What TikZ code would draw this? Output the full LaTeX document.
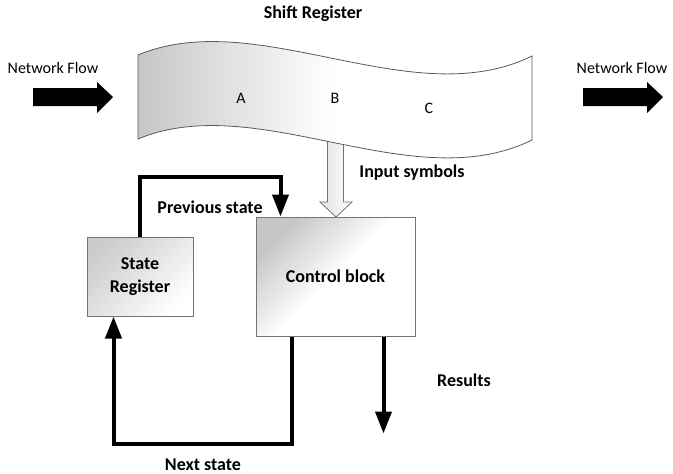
\documentclass[tikz,border=0pt]{standalone}
\usepackage{fontspec}
\setmainfont{Carlito}
\usetikzlibrary{arrows.meta,calc}
\begin{document}
\begin{tikzpicture}[x=1pt,y=-1pt,
  lbl/.style={font=\fontsize{18}{23}\selectfont\bfseries, inner sep=0pt, align=center},
  reg/.style={font=\fontsize{16}{19}\selectfont, inner sep=0pt},
  box/.style={draw=black!55, line width=1pt, inner sep=0pt},
  flow/.style={line width=4pt, line join=miter, -{Triangle[width=16pt,length=22pt]}},
  blockarrow/.style={fill=black},
  hollow/.style={draw=black!55, line width=0.8pt, left color=black!12, right color=white}
]
\useasboundingbox (0,0) rectangle (673,474);

% title
\node[lbl] (title) at (313,14) {Shift Register};

% network flow labels and block arrows
\node[reg] (nfl) at (53,68) {Network Flow};
\node[reg] (nfr) at (622,68) {Network Flow};
\fill[blockarrow] (33,88) -- (97,88) -- (97,82) -- (113,97) -- (97,113) -- (97,106) -- (33,106) -- cycle;
\fill[blockarrow] (583,88) -- (647,88) -- (647,82) -- (663,97) -- (647,113) -- (647,106) -- (583,106) -- cycle;

% input symbols hollow arrow
\path[hollow] (327.5,130) -- (327.5,202) -- (320,202) -- (336,217) -- (352,202) -- (343.5,202) -- (343.5,130) -- cycle;

% shift register banner
\path[shade, left color=black!22, right color=white, middle color=white, draw=black!65, line width=0.8pt]
  (138,55) .. controls (258,5) and (412,115) .. (532,56) -- (532,140)
  .. controls (412,199) and (258,89) .. (138,139) -- cycle;
\node[reg] (a) at (241,98) {A};
\node[reg] (b) at (335,98) {B};
\node[reg] (c) at (429,108) {C};

\node[lbl] (inp) at (412,173) {Input symbols};

% boxes
\node[box, lbl, minimum width=106pt, minimum height=79pt, top color=black!20, bottom color=white, shading angle=45] (sr) at (140,276.5) {State\\Register};
\node[box, lbl, minimum width=159pt, minimum height=119pt, top color=black!22, bottom color=white, middle color=white, shading angle=45] (cb) at (335.5,276.5) {Control block};

% connectors
\draw[flow] (sr.north) -- ++(0,-60) -| ($(cb.north west)+(25,0)$);
\node[lbl] (prev) at (210,207) {Previous state};

\draw[flow] ($(cb.south west)+(36,0)$) -- ++(0,107) -| ($(sr.south west)+(27,0)$);
\node[lbl] (next) at (203,465) {Next state};

\coordinate (res) at ($(cb.south west)+(128,97)$);
\draw[flow] ($(cb.south west)+(128,0)$) -- (res);
\node[lbl] (results) at (464,380) {Results};
\end{tikzpicture}
\end{document}
